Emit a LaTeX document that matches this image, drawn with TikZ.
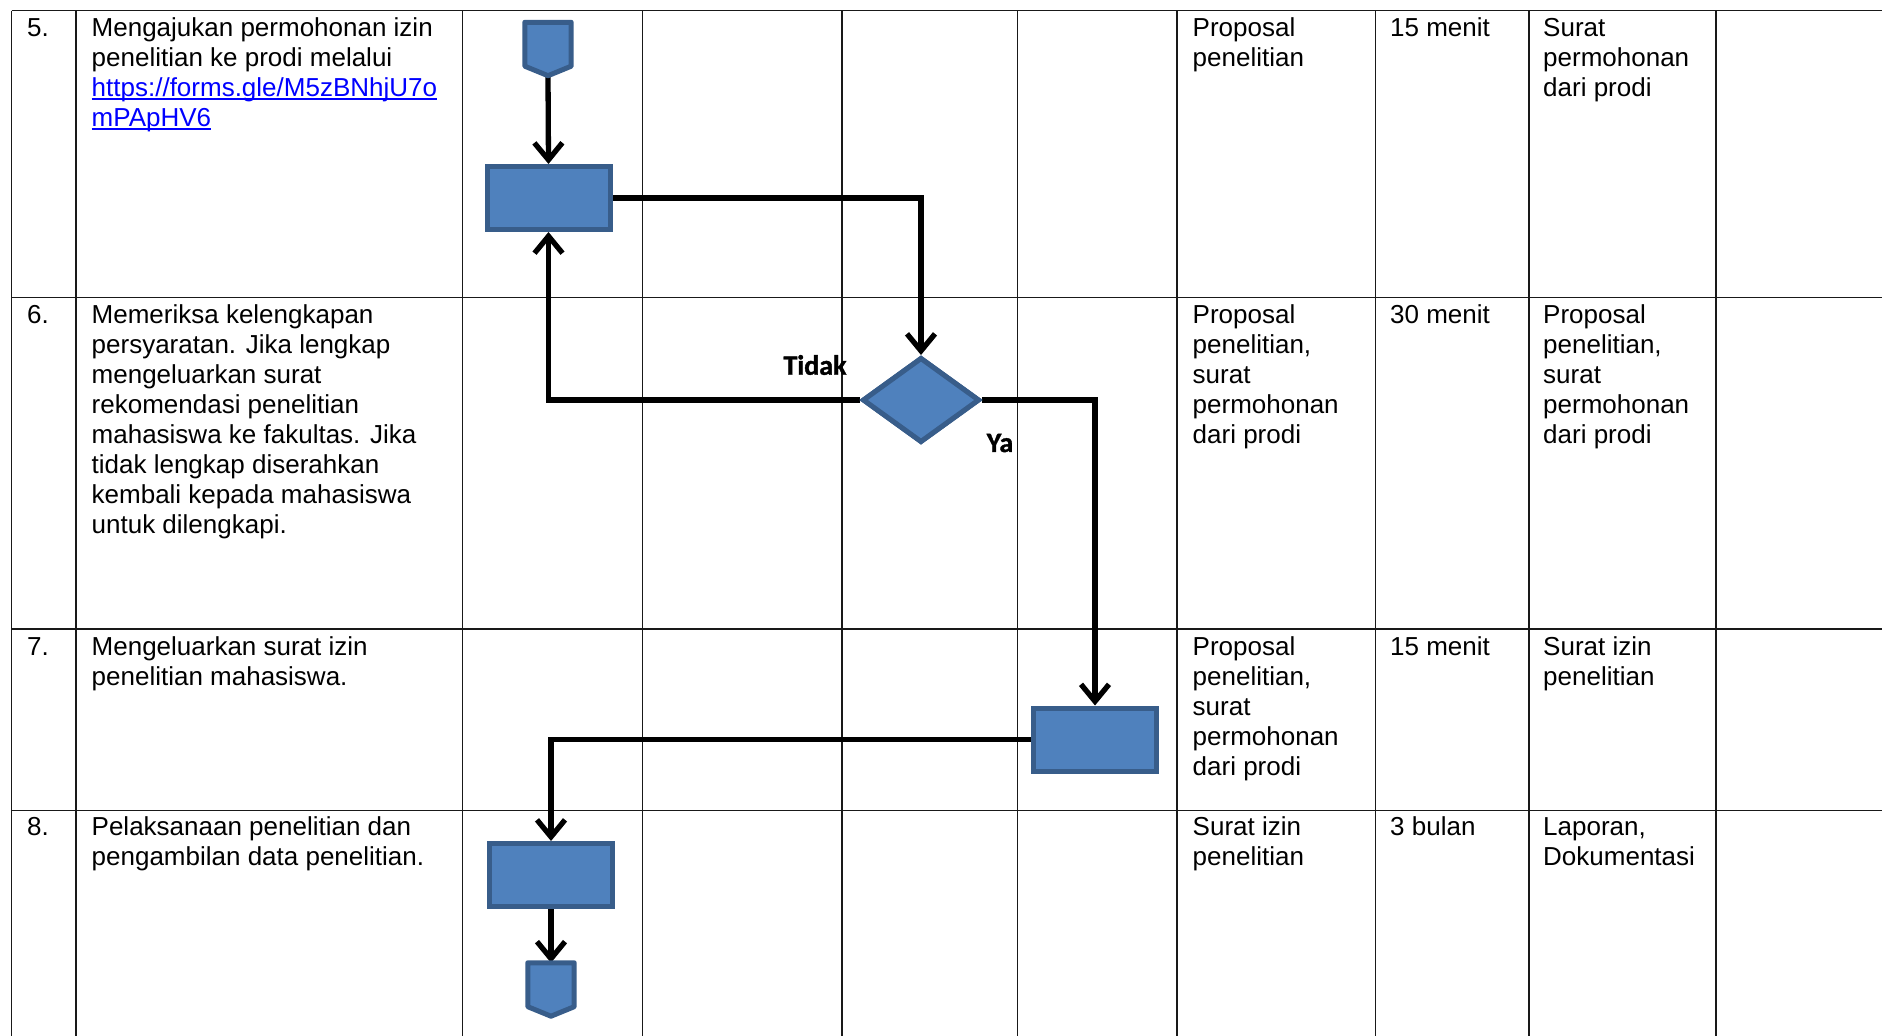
\documentclass[tikz,border=0pt]{standalone}
\usepackage{fontspec}
\setmainfont{Liberation Sans}
\newfontfamily\labfont{Carlito}[BoldFont={Carlito Bold}, BoldFeatures={FakeBold=1.3}]
\usetikzlibrary{arrows.meta,shapes.geometric}
\definecolor{shapefill}{RGB}{79,129,189}
\definecolor{shapeline}{RGB}{56,93,138}
\definecolor{linkblue}{RGB}{0,0,255}
\newcommand\tstrut{\rule{0pt}{24pt}}
\newsavebox\ulbox
\newcommand\myul[1]{\sbox\ulbox{#1}\rlap{\rule[-3.5pt]{\wd\ulbox}{1.8pt}}\usebox\ulbox}
\begin{document}
\begin{tikzpicture}[x=1pt,y=-1pt,
  gridline/.style={line width=1.4pt, black!90},
  cell/.style={anchor=north west, inner sep=0pt, align=left, font=\fontsize{26}{30}\selectfont},
  proc/.style={rectangle, draw=shapeline, fill=shapefill, line width=5pt, minimum width=123pt, minimum height=63pt, inner sep=0pt},
  decision/.style={diamond, draw=shapeline, fill=shapefill, line width=5pt, minimum width=117pt, minimum height=85pt, inner sep=0pt},
  pentbox/.style={inner sep=0pt, minimum width=46pt, minimum height=53pt},
  pent/.style={draw=shapeline, fill=shapefill, line width=5pt, line join=round},
  flow/.style={line width=5.3pt, -{Straight Barb[length=17pt,width=28pt]}},
  lab/.style={font=\labfont\bfseries\fontsize{28}{30}\selectfont, inner sep=0pt}]
\useasboundingbox[fill=white] (0,0) rectangle (1882,1036);

% table grid
\foreach \yy in {10.5,297.5,629,810.5} \draw[gridline] (11.5,\yy) -- (1882,\yy);
\foreach \xx in {11.5,76,462.5,642.5,842,1017.5,1177,1375.5,1529,1716} \draw[gridline] (\xx,10.5) -- (\xx,1036);

% row 5
\node[cell] (n5) at (27,12) {\tstrut 5.};
\node[cell] (t5) at (91.5,12) {\tstrut Mengajukan permohonan izin\\penelitian ke prodi melalui\\\textcolor{linkblue}{\myul{https://forms.gle/M5zBNhjU7o}}\\\textcolor{linkblue}{\myul{mPApHV6}}};
\node[cell] (i5) at (1192.5,12) {\tstrut Proposal\\penelitian};
\node[cell] (w5) at (1390,12) {\tstrut 15 menit};
\node[cell] (o5) at (1543,12) {\tstrut Surat\\permohonan\\dari prodi};

% row 6
\node[cell] (n6) at (27,299) {\tstrut 6.};
\node[cell] (t6) at (91.5,299) {\tstrut Memeriksa kelengkapan\\persyaratan. Jika lengkap\\mengeluarkan surat\\rekomendasi penelitian\\mahasiswa ke fakultas. Jika\\tidak lengkap diserahkan\\kembali kepada mahasiswa\\untuk dilengkapi.};
\node[cell] (i6) at (1192.5,299) {\tstrut Proposal\\penelitian,\\surat\\permohonan\\dari prodi};
\node[cell] (w6) at (1390,299) {\tstrut 30 menit};
\node[cell] (o6) at (1543,299) {\tstrut Proposal\\penelitian,\\surat\\permohonan\\dari prodi};

% row 7
\node[cell] (n7) at (27,631) {\tstrut 7.};
\node[cell] (t7) at (91.5,631) {\tstrut Mengeluarkan surat izin\\penelitian mahasiswa.};
\node[cell] (i7) at (1192.5,631) {\tstrut Proposal\\penelitian,\\surat\\permohonan\\dari prodi};
\node[cell] (w7) at (1390,631) {\tstrut 15 menit};
\node[cell] (o7) at (1543,631) {\tstrut Surat izin\\penelitian};

% row 8
\node[cell] (n8) at (27,811) {\tstrut 8.};
\node[cell] (t8) at (91.5,811) {\tstrut Pelaksanaan penelitian dan\\pengambilan data penelitian.};
\node[cell] (i8) at (1192.5,811) {\tstrut Surat izin\\penelitian};
\node[cell] (w8) at (1390,811) {\tstrut 3 bulan};
\node[cell] (o8) at (1543,811) {\tstrut Laporan,\\Dokumentasi};

% flow shapes
\node[pentbox] (s1) at (548,49) {};
\node[proc] (r1) at (548.5,198) {};
\node[decision] (d1) at (921,400) {};
\node[proc] (r2) at (1095,739.5) {};
\node[proc] (r3) at (551,875) {};
\node[pentbox] (e1) at (551,989.5) {};

% connectors
\draw[flow] (s1.south) -- (r1.north);
\draw[flow] (r1.east) -| (d1.north);
\draw[flow] (d1.west) -| (r1.south);
\draw[flow] (d1.east) -| (r2.north);
\draw[flow] (r2.west) -| (r3.north);
\draw[flow] (r3.south) -- (e1.north);

% redraw shapes on top of connectors
\node[proc] at (r1) {};
\node[decision] at (d1) {};
\node[proc] at (r2) {};
\node[proc] at (r3) {};
\draw[pent] (s1.north west) -- (s1.north east) -- ([yshift=9.5pt]s1.south east) -- (s1.south) -- ([yshift=9.5pt]s1.south west) -- cycle;
\draw[pent] (e1.north west) -- (e1.north east) -- ([yshift=9.5pt]e1.south east) -- (e1.south) -- ([yshift=9.5pt]e1.south west) -- cycle;

% labels
\node[lab] (ltidak) at (815,365) {Tidak};
\node[lab] (lya) at (1000,443) {Ya};
\end{tikzpicture}
\end{document}
